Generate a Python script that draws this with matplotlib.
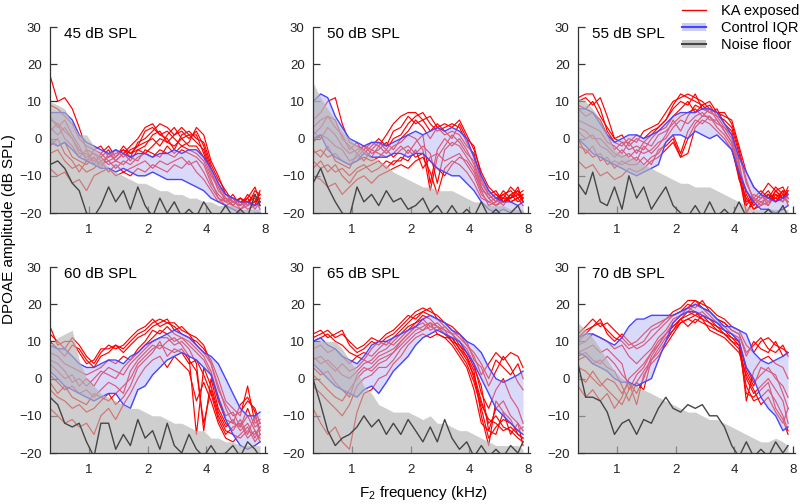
import matplotlib
matplotlib.use('Agg')
import matplotlib.pyplot as plt
from matplotlib.lines import Line2D
from matplotlib.patches import Patch

plt.rcParams['font.family'] = ['Liberation Sans', 'DejaVu Sans']

# F2 frequencies (kHz), ~1/8 octave steps
f2_khz = [0.63, 0.69, 0.75, 0.82, 0.89, 0.97, 1.06, 1.15, 1.26, 1.37,
          1.50, 1.63, 1.78, 1.94, 2.12, 2.31, 2.52, 2.74, 2.99, 3.26,
          3.56, 3.88, 4.23, 4.61, 5.03, 5.48, 5.98, 6.52, 7.11, 7.55]

levels = [45, 50, 55, 60, 65, 70]

# ---- 45 dB SPL ----
noise_hi_45 = [10, 9, 8, 4, 1, 1, -2, -5, -8, -9, -10, -11, -12, -12, -13, -14, -14, -15, -15, -16, -16, -17, -17, -18, -18, -18, -19, -19, -19, -19]
noise_med_45 = [-7, -6, -8, -12, -14, -20, -21, -18, -13, -17, -14, -19, -13, -18, -21, -16, -20, -17, -21, -19, -21, -17, -20, -21, -18, -21, -19, -21, -15, -18]
iqr_hi_45 = [7, 7, 7, 5, 1, -1, -2, -3, -4, -3, -4, -5, -4, -4, -5, -4, -4, -3, -4, -3, -3, -5, -8, -12, -15, -16, -17, -17, -18, -17]
iqr_lo_45 = [-1, -2, -1, -3, -5, -6, -7, -8, -8, -9, -8, -9, -10, -10, -9, -10, -11, -11, -11, -12, -13, -14, -16, -17, -18, -19, -20, -21, -20, -20]
ka_45 = [
    [17, 10, 11, 8, 3, -3, -4, -5, -3, -6, -4, -2, 0, 3, 4, 1, 2, 0, -2, -1, 3, 1, -6, -10, -15, -16, -17, -16, -13, -17],
    [9, 8, 6, 4, 0, -2, -3, -2, -5, -4, -3, -5, -1, 0, 2, 4, 3, 1, 2, 0, 2, -2, -8, -12, -16, -17, -18, -15, -17, -16],
    [5, 4, 2, 0, -3, -5, -4, -6, -5, -3, -5, -3, -2, -1, 0, -2, 1, 3, 0, 1, -1, -3, -9, -14, -16, -18, -16, -17, -15, -18],
    [3, 1, 3, 0, -4, -4, -6, -5, -7, -6, -4, -6, -3, -4, -2, 0, -1, -2, 0, -2, -2, -5, -10, -13, -15, -17, -18, -17, -16, -19],
    [0, -2, -1, -5, -6, -7, -5, -7, -6, -8, -6, -7, -5, -4, -5, -3, -4, -5, -3, -4, -5, -7, -12, -15, -17, -16, -19, -18, -17, -16],
    [-4, -3, -6, -8, -7, -9, -8, -6, -9, -7, -9, -8, -7, -6, -8, -6, -7, -6, -5, -7, -6, -9, -13, -16, -18, -17, -17, -19, -18, -17],
    [-8, -10, -9, -12, -11, -14, -10, -9, -8, -10, -9, -10, -8, -9, -7, -8, -9, -7, -8, -6, -9, -11, -14, -17, -16, -18, -19, -17, -18, -14],
    [2, 4, 0, -2, -5, -3, -7, -4, -6, -5, -2, -4, -2, 2, 3, 1, 0, -3, 1, 2, 0, -1, -7, -11, -14, -17, -16, -18, -14, -15],
    [-2, 0, -4, -6, -9, -6, -5, -8, -4, -6, -7, -5, -6, -3, -4, -5, -2, -4, -2, -3, -4, -6, -11, -16, -17, -15, -18, -16, -19, -17],
    [6, 3, 5, 1, -2, -6, -3, -4, -2, -5, -3, -4, -3, -2, 1, 2, -1, 1, 3, 1, 1, -4, -9, -13, -17, -18, -16, -18, -17, -15],
]

# ---- 50 dB SPL ----
noise_hi_50 = [15, 11, 8, 5, 2, 0, -2, -3, -5, -6, -7, -9, -10, -11, -12, -13, -13, -14, -14, -14, -15, -16, -17, -17, -18, -18, -18, -19, -19, -19]
noise_med_50 = [-12, -8, -13, -17, -20, -21, -13, -17, -15, -18, -14, -17, -16, -19, -18, -16, -20, -18, -21, -18, -21, -19, -21, -17, -21, -19, -21, -20, -18, -21]
iqr_hi_50 = [10, 12, 11, 6, 3, 0, -1, -2, -1, -1, -2, -1, 0, 1, 2, 1, 2, 3, 2, 3, 2, 0, -5, -10, -14, -16, -17, -17, -18, -17]
iqr_lo_50 = [0, 1, -3, -5, -6, -7, -6, -4, -5, -5, -5, -4, -4, -5, -4, -4, -6, -8, -9, -10, -10, -12, -14, -17, -19, -20, -19, -20, -21, -20]
ka_50 = [
    [5, 7, 10, 11, 4, -1, -2, -3, -1, -2, 1, 4, 6, 7, 7, 5, 6, 3, 4, 3, 5, 1, -3, -9, -13, -15, -16, -13, -15, -16],
    [3, 5, 6, 3, 1, -3, -1, -4, -2, 0, -2, 2, 3, 6, 4, 5, 2, 4, 2, 0, 4, 0, -2, -10, -14, -16, -15, -14, -16, -15],
    [2, 0, 3, 1, -2, -4, -3, -2, -4, -3, -1, -3, 0, 2, 5, 3, 0, 3, 1, 2, 1, -2, -4, -12, -15, -17, -14, -16, -13, -17],
    [-1, 1, 0, -2, -3, -6, -5, -3, -5, -2, -4, -2, -1, 1, 0, -3, -14, -5, -2, 1, -1, -4, -6, -13, -16, -15, -17, -15, -14, -16],
    [-4, -3, -5, -4, -6, -7, -6, -5, -6, -5, -3, -5, -3, -2, -4, -2, -4, -12, -3, -1, -2, -5, -8, -14, -15, -17, -16, -16, -15, -17],
    [-6, -8, -7, -9, -8, -10, -8, -7, -9, -8, -6, -7, -5, -6, -3, -8, -5, -4, -6, -5, -4, -7, -10, -15, -17, -16, -18, -15, -17, -16],
    [-10, -11, -13, -12, -15, -13, -11, -10, -12, -10, -9, -8, -7, -8, -6, -5, -9, -15, -8, -6, -7, -9, -12, -16, -17, -18, -17, -16, -15, -14],
    [1, 3, 6, 5, 0, -2, -4, -2, -3, -1, -3, 0, 1, 4, 6, 7, 4, 2, 3, 4, 3, -1, -5, -11, -15, -14, -17, -16, -14, -17],
    [-3, -5, -2, -6, -7, -8, -4, -6, -3, -4, -5, -4, -2, -4, -1, 1, -12, -3, 0, -2, 0, -3, -7, -13, -16, -18, -16, -17, -16, -15],
    [-8, -6, -9, -7, -10, -12, -9, -8, -7, -6, -8, -6, -6, -3, -5, -4, -6, -8, -10, -7, -5, -6, -9, -14, -18, -17, -15, -17, -16, -18],
]

# ---- 55 dB SPL ----
noise_hi_55 = [11, 10, 8, 5, 1, -3, -4, -5, -6, -7, -8, -9, -10, -11, -12, -12, -13, -13, -13, -14, -15, -16, -17, -18, -19, -19, -19, -19, -19, -19]
noise_med_55 = [-12, -15, -9, -17, -18, -13, -19, -10, -16, -13, -19, -16, -13, -18, -20, -21, -18, -21, -17, -21, -19, -21, -17, -21, -20, -21, -19, -21, -18, -21]
iqr_hi_55 = [8, 8, 7, 4, 1, -1, 0, 1, 1, 0, 1, 2, 4, 6, 7, 7, 7, 8, 8, 7, 4, 1, -5, -9, -13, -15, -16, -17, -16, -15]
iqr_lo_55 = [0, -2, -4, -5, -6, -7, -8, -9, -10, -9, -8, -7, -1, 1, 1, 0, 2, 1, 0, 1, -1, -3, -9, -14, -17, -19, -19, -20, -19, -18]
ka_55 = [
    [11, 12, 12, 8, 2, -1, -2, 0, -1, 2, 3, 4, 7, 10, 11, 12, 11, 10, 8, 7, 6, 5, -2, -9, -13, -15, -12, -14, -16, -13],
    [10, 11, 9, 11, 6, 0, 1, -2, 0, -1, 1, 3, 5, 8, 10, 9, 12, 8, 9, 6, 5, 3, -4, -12, -16, -14, -16, -13, -15, -17],
    [8, 6, 7, 5, 1, -3, -1, -3, -2, -3, 0, 2, 3, 6, 8, 10, 7, 9, 7, 8, 4, 2, -6, -18, -15, -16, -14, -17, -14, -15],
    [5, 4, 3, 2, -1, -2, -4, -1, -4, -1, -2, 1, 2, 4, 6, 7, 8, 6, 6, 4, 3, 0, -8, -20, -16, -17, -18, -15, -16, -14],
    [2, 0, 1, -2, -3, -5, -3, -5, -3, -4, -3, -1, 0, 3, 5, 4, 6, 7, 5, 5, 2, -1, -9, -14, -18, -16, -15, -17, -15, -16],
    [-2, -3, -5, -4, -7, -6, -7, -6, -5, -7, -5, -4, -1, 1, -4, 2, 5, 4, 6, 3, 1, -2, -11, -16, -19, -17, -16, -15, -17, -14],
    [-6, -8, -7, -10, -9, -11, -10, -8, -9, -8, -6, -5, -3, -1, -5, -4, 3, 5, 4, 2, 0, -3, -10, -17, -16, -18, -17, -16, -14, -18],
    [9, 8, 10, 6, 3, 0, -1, -1, 1, 0, 2, 3, 5, 9, 12, 11, 10, 9, 10, 7, 7, 4, -3, -11, -17, -15, -17, -14, -13, -16],
    [3, 2, 0, 0, -2, -4, -5, -4, -6, -2, -4, -2, 1, 5, 2, 6, 9, 8, 7, 6, 3, 1, -7, -15, -19, -18, -15, -16, -17, -15],
    [0, -4, -2, -6, -5, -8, -6, -7, -7, -5, -7, -3, -2, 0, -5, 0, 4, 6, 8, 5, 2, -1, -10, -20, -17, -15, -18, -14, -16, -17],
]

# ---- 60 dB SPL ----
noise_hi_60 = [9, 11, 12, 13, 5, 0, -2, -4, -5, -6, -7, -8, -8, -9, -10, -10, -11, -12, -12, -13, -14, -14, -16, -16, -17, -17, -18, -18, -18, -18]
noise_med_60 = [-5, -7, -12, -13, -12, -17, -21, -12, -12, -19, -15, -18, -11, -16, -14, -19, -12, -18, -20, -15, -19, -21, -18, -21, -20, -18, -21, -17, -19, -21]
iqr_hi_60 = [9, 8, 8, 6, 4, 3, 3, 4, 5, 5, 4, 6, 7, 9, 10, 11, 12, 13, 12, 11, 9, 7, 6, 4, 0, -4, -8, -10, -10, -9]
iqr_lo_60 = [2, 0, -2, -3, -4, -5, -6, -5, -4, -4, -7, -8, -3, -2, 1, 3, 5, 6, 7, 6, 5, 3, 1, -5, -11, -15, -18, -19, -18, -17]
ka_60 = [
    [14, 9, 10, 10, 7, 4, 5, 8, 8, 9, 8, 10, 12, 13, 15, 16, 15, 14, 12, 11, 10, 8, 5, 0, -6, -8, -10, -2, -12, -11],
    [10, 8, 6, 9, 8, 5, 3, 6, 7, 9, 7, 9, 11, 12, 14, 15, 16, 13, 14, 12, 9, 7, 4, -2, -8, -12, -7, -5, -9, -14],
    [7, 6, 4, 3, 2, 1, 2, 3, 5, 4, 6, 5, 8, 10, 13, 12, 14, 12, 11, 10, 8, 6, 2, -5, -10, -9, -13, -8, -13, -12],
    [4, 2, 0, 1, -2, 0, -2, 1, 3, 2, 1, 4, 6, 8, 10, 11, 11, 9, 10, 8, 4, -14, 0, -8, -12, -14, -11, -15, -10, -15],
    [1, -1, -3, -2, -4, -3, -5, -3, -1, -2, -4, 2, 5, 7, 9, 8, 10, 11, 9, 6, -15, 3, -2, -9, -13, -11, -14, -12, -16, -13],
    [-3, -5, -6, -8, -7, -9, -8, -6, -4, -7, -5, -2, 3, 5, 7, 10, 6, 8, 7, 4, 5, 1, -4, -11, -15, -13, -12, -16, -14, -17],
    [-8, -10, -12, -11, -13, -12, -15, -10, -8, -11, -7, -4, 0, 3, 5, 6, 3, 6, 4, 2, -6, -1, -6, -12, -16, -17, -15, -13, -17, -15],
    [12, 10, 8, 11, 9, 6, 4, 7, 9, 8, 9, 11, 13, 14, 16, 14, 15, 15, 13, 12, 11, 9, 4, -3, -7, -10, -9, -6, -8, -12],
    [5, 4, 2, -1, 0, -2, 0, 2, 1, 0, 3, 5, 7, 9, 11, 13, 12, 10, 11, 9, 7, 5, 1, -6, -11, -12, -13, -10, -14, -16],
    [-1, -4, -2, -5, -6, -7, -4, -5, -6, -4, -2, 0, 4, 6, 8, 9, 8, 7, 8, 5, 2, -12, -3, -10, -14, -15, -16, -14, -15, -13],
]

# ---- 65 dB SPL ----
noise_hi_65 = [10, 10, 10, 10, 8, 5, 2, -2, -4, -7, -8, -9, -9, -9, -10, -11, -10, -12, -12, -13, -14, -14, -15, -16, -17, -18, -18, -18, -18, -19]
noise_med_65 = [0, -7, -14, -18, -16, -15, -13, -10, -13, -11, -15, -12, -15, -11, -14, -17, -13, -17, -11, -16, -19, -17, -21, -18, -21, -19, -21, -18, -20, -17]
iqr_hi_65 = [10, 11, 9, 8, 6, 5, 4, 6, 9, 10, 10, 11, 12, 13, 14, 16, 17, 16, 15, 13, 12, 10, 9, 7, 3, 0, -1, 0, 1, 2]
iqr_lo_65 = [4, 2, 0, -2, -3, -4, -5, -3, -2, -4, -1, 2, 4, 6, 9, 11, 12, 13, 12, 11, 10, 7, 4, 0, -4, -8, -10, -12, -14, -15]
ka_65 = [
    [12, 13, 11, 12, 13, 9, 7, 8, 10, 9, 11, 12, 14, 16, 18, 19, 18, 17, 15, 13, 11, 9, 6, 1, 4, 7, 5, 7, 6, 3],
    [10, 11, 12, 10, 9, 7, 6, 5, 8, 10, 9, 11, 13, 15, 17, 18, 17, 16, 15, 14, 12, 10, 5, 3, -2, 2, 6, 3, -1, -3],
    [8, 9, 7, 8, 6, 4, 6, 7, 6, 8, 10, 9, 11, 13, 15, 17, 16, 14, 13, 12, 10, 8, 4, -4, -8, -3, 0, -5, -8, -12],
    [5, 6, 4, 2, 4, 2, 3, 5, 4, 6, 7, 8, 10, 12, 14, 15, 13, 14, 12, 10, 9, 6, 2, -10, -18, -6, -9, -11, -15, -16],
    [3, 1, 2, -1, -3, -5, 1, 3, 2, 4, 5, 7, 9, 11, 13, 14, 15, 12, 11, 11, 8, 5, 1, -6, -12, -10, -13, -14, -16, -17],
    [-2, -4, -6, -8, -10, -7, -2, 0, 1, 3, 3, 5, 8, 10, 12, 13, 14, 15, 13, 10, 7, 4, -1, -8, -16, -13, -11, -12, -14, -13],
    [-8, -12, -15, -13, -17, -19, -9, -4, -3, 0, 1, 4, 6, 9, 11, 12, 11, 12, 11, 9, 6, 3, -3, -12, -14, -15, -9, -15, -12, -18],
    [11, 12, 13, 11, 12, 10, 8, 9, 11, 10, 12, 13, 15, 17, 16, 18, 19, 16, 14, 12, 12, 9, 7, 4, 0, 5, 3, 1, 4, 0],
    [6, 4, 5, 3, 1, 0, 2, 4, 5, 7, 8, 10, 12, 14, 15, 16, 14, 13, 14, 12, 9, 7, 3, -2, -14, -8, -6, -10, -12, -14],
    [1, -1, -3, -5, -6, -3, 0, 2, 3, 5, 6, 7, 10, 12, 14, 13, 15, 14, 12, 11, 8, 6, 0, -7, -11, -12, -14, -13, -15, -16],
]

# ---- 70 dB SPL ----
noise_hi_70 = [15, 13, 11, 8, 5, 2, 0, -1, -2, -3, -4, -5, -6, -7, -8, -9, -9, -10, -11, -11, -12, -13, -14, -15, -16, -17, -17, -16, -17, -18]
noise_med_70 = [4, -5, -5, -6, -9, -15, -12, -11, -15, -11, -12, -8, -5, -8, -9, -7, -8, -7, -10, -10, -13, -18, -21, -17, -21, -19, -21, -17, -20, -18]
iqr_hi_70 = [11, 12, 12, 11, 10, 9, 11, 14, 16, 16, 17, 17, 17, 17, 18, 19, 20, 19, 18, 16, 14, 14, 13, 12, 7, 5, 4, 5, 6, 7]
iqr_lo_70 = [7, 6, 4, 3, 2, 0, -1, -1, -2, -1, 0, 5, 10, 15, 17, 18, 18, 17, 16, 15, 13, 12, 10, 3, 0, -5, -8, -10, -14, -13]
ka_70 = [
    [12, 14, 16, 14, 15, 13, 11, 9, 10, 12, 14, 15, 16, 18, 19, 21, 21, 20, 19, 17, 16, 14, 13, 9, 7, 10, 11, 9, 8, 7],
    [11, 13, 14, 16, 12, 10, 12, 10, 8, 9, 11, 13, 15, 17, 18, 20, 19, 21, 18, 16, 15, 13, 12, 6, 10, 8, 7, 10, 6, 7],
    [9, 10, 12, 11, 10, 8, 9, 6, 4, 6, 8, 11, 13, 16, 17, 18, 20, 19, 17, 15, 13, 12, 11, -6, 2, 5, 6, 4, 3, 0],
    [7, 8, 9, 7, 8, 6, 4, -3, 1, 3, 7, 9, 12, 14, 16, 17, 18, 17, 16, 15, 14, 12, 10, 3, -1, 1, 3, 0, -2, -5],
    [5, 6, 4, 5, 3, 2, -2, -6, -1, -3, 5, 8, 11, 13, 16, 14, 16, 15, 14, 13, 12, 11, 9, 0, -4, -2, 0, -3, -6, -12],
    [3, 2, 0, -2, 0, -1, -4, -1, -7, 1, 4, 6, 9, 12, 15, 16, 17, 16, 15, 14, 12, 10, 8, -2, -6, -5, -3, -6, -10, -14],
    [-2, -5, -3, -6, -4, -8, -5, 0, 2, 4, 7, 10, 12, 15, 17, 19, 18, 16, 13, 12, 11, 9, 7, 1, -3, -7, -5, -9, -12, -8],
    [10, 12, 14, 15, 13, 11, 10, 8, 9, 10, 13, 14, 16, 17, 18, 19, 21, 19, 18, 16, 15, 13, 12, 7, 9, 11, 8, 7, 9, 6],
    [6, 7, 5, 4, 6, 4, 1, -1, -4, 0, 6, 9, 12, 14, 16, 18, 17, 18, 16, 14, 13, 11, 10, 2, -2, 3, 2, 1, -4, -8],
    [1, -1, 2, -1, -3, -5, -7, -3, -1, 2, 5, 7, 10, 13, 15, 16, 15, 17, 15, 13, 12, 10, 9, -4, -5, -3, -1, -8, -11, -15],
]

noise_hi = [noise_hi_45, noise_hi_50, noise_hi_55, noise_hi_60, noise_hi_65, noise_hi_70]
noise_med = [noise_med_45, noise_med_50, noise_med_55, noise_med_60, noise_med_65, noise_med_70]
iqr_hi = [iqr_hi_45, iqr_hi_50, iqr_hi_55, iqr_hi_60, iqr_hi_65, iqr_hi_70]
iqr_lo = [iqr_lo_45, iqr_lo_50, iqr_lo_55, iqr_lo_60, iqr_lo_65, iqr_lo_70]
ka = [ka_45, ka_50, ka_55, ka_60, ka_65, ka_70]

RED = '#ff0000'
BLUE = '#4646ff'
IQR_FILL = '#b4b4f5'
GRAY_FILL = '#b4b4b4'
NOISE_LINE = '#454545'

fig = plt.figure(figsize=(8, 5.04), dpi=100)
W, H = 800, 504
lefts = [50, 313, 578]
bottoms = [291, 51]

for i, lvl in enumerate(levels):
    r, c = divmod(i, 3)
    ax = fig.add_axes([lefts[c] / W, bottoms[r] / H, 217 / W, 186 / H])

    for tr in ka[i]:
        ax.plot(f2_khz, tr, color=RED, lw=0.85, zorder=1)
    # IQR band sits over the KA traces, which turn pink inside it
    ax.fill_between(f2_khz, iqr_lo[i], iqr_hi[i], color=IQR_FILL, alpha=0.5,
                    lw=0, zorder=2)
    ax.plot(f2_khz, iqr_hi[i], color=BLUE, lw=1.0, zorder=3)
    ax.plot(f2_khz, iqr_lo[i], color=BLUE, lw=1.0, zorder=3)
    # noise floor on top, fades what lies beneath it
    ax.fill_between(f2_khz, -25, noise_hi[i], color=GRAY_FILL, alpha=0.65,
                    lw=0, zorder=4)
    ax.plot(f2_khz, noise_med[i], color=NOISE_LINE, lw=1.0, zorder=5)

    ax.set_xscale('log', base=2)
    ax.set_xlim(0.63, 8.2)
    ax.set_ylim(-20, 30)
    ax.set_xticks([1, 2, 4, 8])
    ax.set_xticklabels(['1', '2', '4', '8'])
    ax.minorticks_off()
    ax.set_yticks([-20, -10, 0, 10, 20, 30])
    ax.spines['top'].set_visible(False)
    ax.spines['right'].set_visible(False)
    for s in ('left', 'bottom'):
        ax.spines[s].set_color('#333333')
        ax.spines[s].set_linewidth(0.9)
        ax.spines[s].set_zorder(6)
    ax.tick_params(direction='in', length=5, width=0.9, color='#333333',
                   labelsize=9.5, labelcolor='#222222')
    ax.tick_params(axis='x', pad=8)
    ax.tick_params(axis='y', pad=6)
    ax.text(0.065, 1.0, f'{lvl} dB SPL', transform=ax.transAxes,
            ha='left', va='top', fontsize=11, zorder=7)

fig.text(9 / W, 1 - 229 / H, 'DPOAE amplitude (dB SPL)', rotation=90,
         ha='center', va='center', fontsize=11)
fig.text(423 / W, 1 - 493 / H, r'F$_\mathregular{2}$ frequency (kHz)',
         ha='center', va='center', fontsize=11)

handles = [
    Line2D([], [], color=RED, lw=1.0),
    (Patch(color=IQR_FILL, alpha=0.7, lw=0), Line2D([], [], color=BLUE, lw=1.5)),
    (Patch(color=GRAY_FILL, alpha=0.7, lw=0), Line2D([], [], color=NOISE_LINE, lw=1.5)),
]
fig.legend(handles, ['KA exposed', 'Control IQR', 'Noise floor'],
           loc='upper right', bbox_to_anchor=(1.012, 1.012), frameon=False,
           fontsize=10.5, handlelength=1.7, handleheight=0.5,
           labelspacing=0.2, handletextpad=1.0, borderaxespad=0.3)

fig.savefig('out.png', dpi=100)
